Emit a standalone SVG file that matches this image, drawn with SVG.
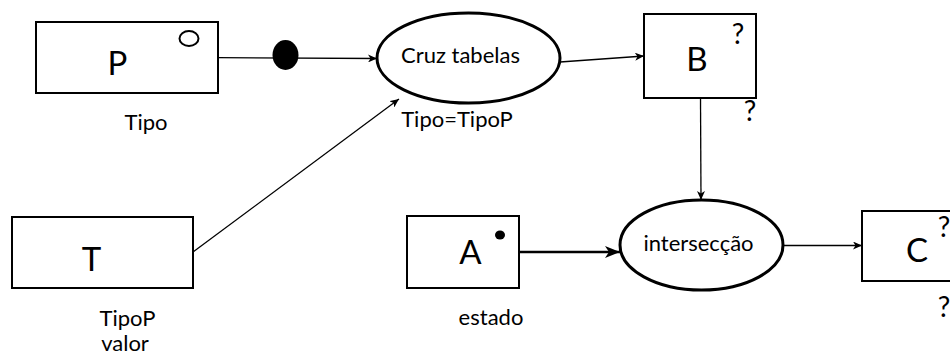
<svg xmlns="http://www.w3.org/2000/svg" width="950" height="356" viewBox="0 0 950 356">
<defs>
<style>
.box{fill:#fff;stroke:#000;stroke-width:2}
.ell{fill:#fff;stroke:#000;stroke-width:3}
.con{fill:none;stroke:#000;stroke-width:1.3}
.thick{fill:none;stroke:#000;stroke-width:2.6}
text{font-family:Lato,"Open Sans",sans-serif;fill:#000}
.big{font-size:33px;text-anchor:middle}
.q{font-size:28px;text-anchor:middle}
.lbl{font-size:22px;text-anchor:middle}
</style>
<marker id="arr" markerUnits="userSpaceOnUse" markerWidth="10" markerHeight="8" refX="9" refY="4" orient="auto">
<path d="M0,0 L9,4 L0,8 L2.5,4 z" fill="#000"/>
</marker>
<marker id="arrB" markerUnits="userSpaceOnUse" markerWidth="16" markerHeight="12" refX="15" refY="6" orient="auto">
<path d="M0,0 L15,6 L0,12 L4,6 z" fill="#000"/>
</marker>
</defs>
<g id="connectors">
<line class="con" x1="218" y1="57.7" x2="377" y2="58.5" marker-end="url(#arr)"/>
<line class="con" x1="193" y1="252" x2="399" y2="99" marker-end="url(#arr)"/>
<line class="con" x1="560" y1="62" x2="644" y2="56" marker-end="url(#arr)"/>
<line class="con" x1="700.5" y1="98" x2="701" y2="200" marker-end="url(#arr)"/>
<line class="thick" x1="519" y1="252" x2="620" y2="252" marker-end="url(#arrB)"/>
<line class="con" x1="783" y1="245.5" x2="862" y2="245.5" marker-end="url(#arr)"/>
</g>
<g id="dot">
<ellipse cx="285.5" cy="55" rx="13" ry="15" fill="#000"/>
</g>
<g id="node-P">
<rect class="box" x="36" y="22" width="182" height="71"/>
<ellipse cx="189" cy="38.5" rx="9.5" ry="7.5" fill="#fff" stroke="#000" stroke-width="2"/>
<text class="big" x="117.5" y="75">P</text>
<text class="lbl" x="146" y="130">Tipo</text>
</g>
<g id="node-T">
<rect class="box" x="12" y="217" width="181" height="71"/>
<text class="big" x="91.5" y="271">T</text>
<text class="lbl" x="127.5" y="326">TipoP</text>
<text class="lbl" x="125" y="351">valor</text>
</g>
<g id="node-cruz">
<ellipse class="ell" cx="468.5" cy="58" rx="91.5" ry="45"/>
<text class="lbl" x="460.5" y="63">Cruz tabelas</text>
<text class="lbl" x="457" y="127">Tipo=TipoP</text>
</g>
<g id="node-B">
<rect class="box" x="644" y="14" width="112" height="84"/>
<text class="big" x="697" y="71">B</text>
<text class="q" x="738" y="44">?</text>
<text class="q" x="750" y="121">?</text>
</g>
<g id="node-A">
<rect class="box" x="407" y="216" width="112" height="72"/>
<ellipse cx="500" cy="235" rx="5" ry="4.5" fill="#000"/>
<text class="big" x="470.5" y="263.5">A</text>
<text class="lbl" x="491" y="325">estado</text>
</g>
<g id="node-inter">
<ellipse class="ell" cx="701.5" cy="245" rx="81.5" ry="45"/>
<text class="lbl" x="698.5" y="251">intersecção</text>
</g>
<g id="node-C">
<rect class="box" x="862" y="211" width="100" height="70"/>
<text class="big" x="917" y="262">C</text>
<text class="q" x="944" y="237">?</text>
<text class="q" x="944" y="317">?</text>
</g>
</svg>
